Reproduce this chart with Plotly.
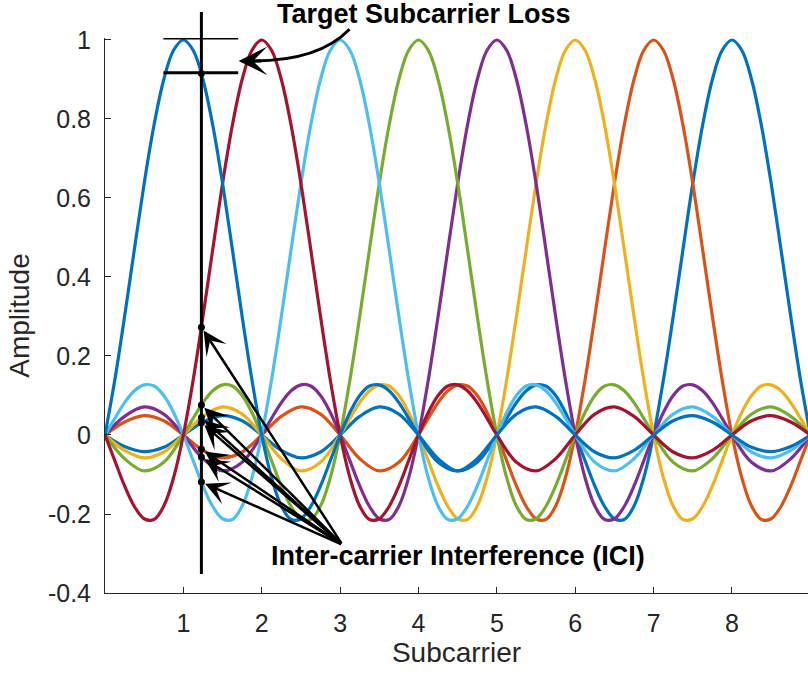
import plotly.graph_objects as go

# ---------------- data ----------------
subcarriers = [8, 7, 6, 5, 4, 3, 2, 1]          # drawing order
colors = ['#0072BD', '#D95319', '#EDB120', '#7E2F8E',
          '#77AC30', '#4DBEEE', '#A2142F', '#0072BD']

# one pulse (amplitude vs. offset from its subcarrier), one-sided
pulse_offset = [0, 0.125, 0.25, 0.375, 0.5, 0.625, 0.75, 0.875, 1,
                1.125, 1.25, 1.375, 1.5, 1.625, 1.75, 1.875, 2,
                2.125, 2.25, 2.375, 2.5, 2.625, 2.75, 2.875,
                3, 3.25, 3.5, 3.75, 4, 4.25, 4.5, 4.75, 5, 5.25, 5.5, 5.75,
                6, 6.25, 6.5, 6.75, 7, 7.25, 7.5, 7.75, 8]
pulse_amp = [1.0, 0.974, 0.900, 0.784, 0.637, 0.470, 0.300, 0.139, 0.0,
             -0.108, -0.180, -0.214, -0.212, -0.181, -0.129, -0.065, 0.0,
             0.057, 0.100, 0.124, 0.127, 0.112, 0.082, 0.042,
             0.0, -0.069, -0.091, -0.060, 0.0,
             0.053, 0.071, 0.047, 0.0, -0.043, -0.058, -0.039, 0.0,
             0.036, 0.049, 0.033, 0.0, -0.031, -0.042, -0.029, 0.0]

x_ticks = [1, 2, 3, 4, 5, 6, 7, 8]
y_ticks = [-0.4, -0.2, 0, 0.2, 0.4, 0.6, 0.8, 1]
y_ticktext = ['-0.4', '-0.2', '0', '0.2', '0.4', '0.6', '0.8', '1']

sample_x = 1.23
target_val = 0.915
ici_vals = [0.273, 0.076, 0.044, 0.031, -0.036, -0.056, -0.119]

X_MIN, X_MAX = 0, 8.97
Y_MIN, Y_MAX = -0.4, 1.005

def yp(v):
    return (v - Y_MIN) / (Y_MAX - Y_MIN)

# ---------------- figure ----------------
off_full = [-o for o in reversed(pulse_offset[1:])] + pulse_offset
amp_full = list(reversed(pulse_amp[1:])) + pulse_amp

fig = go.Figure()
for k, c in zip(subcarriers, colors):
    xs, ys = [], []
    for o, a in zip(off_full, amp_full):
        if 0 <= k + o <= 9:
            xs.append(k + o)
            ys.append(a)
    fig.add_trace(go.Scatter(x=xs, y=ys, mode='lines',
                             line=dict(color=c, width=3.2, shape='spline'),
                             showlegend=False, hoverinfo='skip'))

# sampling markers
fig.add_trace(go.Scatter(x=[sample_x] * (len(ici_vals) + 1),
                         y=[target_val] + ici_vals, mode='markers',
                         marker=dict(color='black', size=7),
                         showlegend=False, hoverinfo='skip'))

# vertical sampling line and target-level lines
fig.add_shape(type='line', xref='x', yref='paper', x0=sample_x, x1=sample_x,
              y0=yp(-0.352), y1=yp(1.071), line=dict(color='black', width=3))
fig.add_shape(type='line', xref='x', yref='y', x0=0.745, x1=1.70,
              y0=1.005, y1=1.005, line=dict(color='black', width=3))
fig.add_shape(type='line', xref='x', yref='y', x0=0.745, x1=1.70,
              y0=0.917, y1=0.917, line=dict(color='black', width=3))

# curved arrow for "Target Subcarrier Loss"
p0 = (3.12, yp(1.027))
p1 = (2.73, yp(0.947))
p2 = (1.90, yp(0.947))
fig.add_shape(type='path', xref='x', yref='paper',
              path=f'M {p0[0]},{p0[1]} Q {p1[0]},{p1[1]} {p2[0]},{p2[1]}',
              line=dict(color='black', width=3))
fig.add_annotation(x=1.705, y=0.947, xref='x', yref='y', ax=24, ay=0,
                   text='', showarrow=True, arrowhead=3, arrowsize=1.6,
                   arrowwidth=3, arrowcolor='black')

fig.add_annotation(x=4.07, y=yp(1.066), xref='x', yref='paper',
                   text='<b>Target Subcarrier Loss</b>', showarrow=False,
                   font=dict(family='Liberation Sans, Arial', size=27, color='black'),
                   xanchor='center', yanchor='middle')

# ICI arrows
tail_x, tail_y = 3.03, -0.278
for v in ici_vals:
    fig.add_annotation(x=sample_x, y=v, xref='x', yref='y',
                       ax=tail_x, ay=tail_y, axref='x', ayref='y',
                       text='', showarrow=True, arrowhead=3, arrowsize=1.6,
                       arrowwidth=2.5, arrowcolor='black', standoff=4)

fig.add_annotation(x=4.51, y=-0.306, xref='x', yref='y',
                   text='<b>Inter-carrier Interference (ICI)</b>', showarrow=False,
                   font=dict(family='Liberation Sans, Arial', size=27, color='black'),
                   xanchor='center', yanchor='middle')

axis_common = dict(showline=True, linecolor='#262626', linewidth=1,
                   ticks='inside', ticklen=6, tickwidth=1, tickcolor='#262626',
                   showgrid=False, zeroline=False, mirror=False,
                   tickfont=dict(family='Liberation Sans, Arial', size=25, color='#262626'))

fig.update_layout(
    width=808, height=677,
    margin=dict(l=105, r=0, t=38, b=84),
    paper_bgcolor='white', plot_bgcolor='white',
    xaxis=dict(range=[X_MIN, X_MAX], tickvals=x_ticks,
               ticktext=[str(t) for t in x_ticks], ticklabelstandoff=8,
               title=dict(text='Subcarrier', standoff=6,
                          font=dict(family='Liberation Sans, Arial', size=28, color='#262626')),
               **axis_common),
    yaxis=dict(range=[Y_MIN, Y_MAX], tickvals=y_ticks, ticktext=y_ticktext,
               ticklabelstandoff=8,
               title=dict(text='Amplitude', standoff=10,
                          font=dict(family='Liberation Sans, Arial', size=28, color='#262626')),
               **axis_common),
)

fig.write_html('out.html')
